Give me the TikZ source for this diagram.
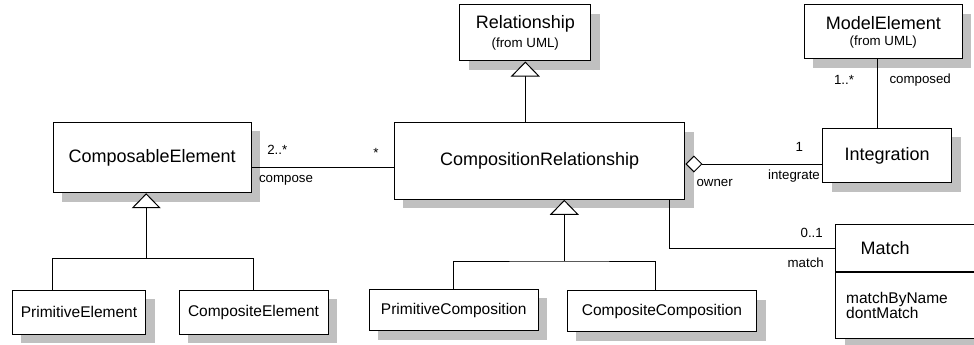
\documentclass[tikz,border=0pt]{standalone}
\usepackage{fontspec}
\setmainfont{Liberation Sans}
\usetikzlibrary{arrows.meta,shadows}
\definecolor{shade}{RGB}{192,192,192}
\newcommand\clsfont{\fontsize{18}{21}\selectfont}
\newcommand\subfont{\fontsize{15.5}{19.3}\selectfont}
\newcommand\lblfont{\fontsize{13.3}{16}\selectfont}

\begin{document}
\begin{tikzpicture}[x=1pt,y=-1pt]
\tikzstyle{every node}+=[inner sep=0pt]
\tikzstyle{cls}=[draw, line width=1pt, fill=white,
  drop shadow={shadow xshift=9pt, shadow yshift=-9pt, fill=shade, opacity=1}]
\tikzstyle{link}=[line width=1pt]
\tikzstyle{gen}=[link, -{Triangle[fill=white, length=15pt, width=29pt]}]
\tikzstyle{agg}=[link, -{Diamond[fill=white, length=17pt, width=17pt]}]
\tikzstyle{lbl}=[font=\lblfont]
\clip (0,0) rectangle (974,345);
% classes
\node[cls, minimum width=197.7, minimum height=70.4] (ce) at (152.2,157.5) {\clsfont ComposableElement};
\node[cls, minimum width=133.4, minimum height=44.3] (pe) at (79,312.2) {\subfont PrimitiveElement};
\node[cls, minimum width=149, minimum height=44.3] (cpe) at (253.5,312.2) {\subfont CompositeElement};
\node[cls, minimum width=130.7, minimum height=56, align=center] (rel) at (525.3,33)
  {{\clsfont Relationship}\\[4pt]{\lblfont (from UML)}};
\node[cls, minimum width=290.7, minimum height=76.6] (crel) at (539.6,161) {\clsfont CompositionRelationship};
\node[cls, minimum width=169.3, minimum height=41.4] (pc) at (453.7,310) {\subfont PrimitiveComposition};
\node[cls, minimum width=189.4, minimum height=40.7] (cc) at (662,311.3) {\subfont CompositeComposition};
\node[cls, minimum width=158, minimum height=54, align=center] (me) at (883.3,32)
  {{\clsfont ModelElement}\\[4pt]{\lblfont (from UML)}};
\node[cls, minimum width=129, minimum height=54.4] (integ) at (887.2,155.5) {\clsfont Integration};
\node[cls, anchor=north west, minimum height=47, inner xsep=25, text width=120, align=left] (mhead) at (835,224) {\clsfont Match};
\node[cls, anchor=north, minimum height=65.7, inner xsep=10.7, text width=148.6, align=left] (mbody) at (mhead.south)
  {\subfont matchByName\\dontMatch};
% generalisations
\coordinate (gce) at (146.2,258.3);
\coordinate (gcr) at (564.3,261);
\draw[link] ([xshift=-26.7]pe.north) |- (gce) -| (cpe.north);
\draw[gen] (gce) -- (gce |- ce.south);
\draw[link] (pc.north) |- (gcr) -| ([xshift=-6.3]cc.north);
\draw[gen] (gcr) -- (gcr |- crel.south);
\draw[gen] (rel.south |- crel.north) -- (rel.south);
% associations
\coordinate (cmp) at ([yshift=-10.2]ce.east);
\draw[link] (cmp) -- (cmp -| crel.west);
\coordinate (own) at ([yshift=-3]crel.east);
\draw[agg] (integ.west |- own) -- (own);
\coordinate (cmpd) at ([xshift=-6]me.south);
\draw[link] (cmpd) -- (cmpd |- integ.north);
\draw[link] ([xshift=129.7]crel.south) |- (mhead.west);
% roles and multiplicities
\node[lbl] (m1) at (277.3,150) {2..*};
\node[lbl] (m2) at (376,153) {*};
\node[lbl] (r1) at (286,180) {compose};
\node[lbl] (m3) at (844,80) {1..*};
\node[lbl, anchor=west] (r2) at (889.3,80) {composed};
\node[lbl] (m4) at (799.3,146.7) {1};
\node[lbl] (r3) at (794,176) {integrate};
\node[lbl] (r4) at (714.7,182.7) {owner};
\node[lbl] (m5) at (811.7,233.3) {0..1};
\node[lbl] (r5) at (805.7,262.3) {match};
\end{tikzpicture}
\end{document}
